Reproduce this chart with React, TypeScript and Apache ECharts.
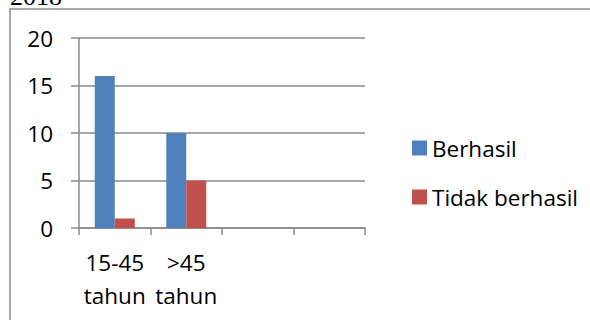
import React, { useEffect, useRef } from "react";
import * as echarts from "echarts";

const categories = ["15-45\ntahun", ">45\ntahun", "", ""];
const berhasil = [16, 10, null, null];
const tidakBerhasil = [1, 5, null, null];
const yTicks = { min: 0, max: 20, interval: 5 };
const seriesNames = ["Berhasil", "Tidak berhasil"];

const FONT = "'Open Sans', 'Noto Sans', sans-serif";
const FS = 22.5;

export default function App() {
  const ref = useRef<HTMLDivElement>(null);
  useEffect(() => {
    document.body.style.margin = "0";
    const chart = echarts.init(ref.current!, null, { renderer: "svg" });
    chart.setOption({
      animation: false,
      backgroundColor: "#ffffff",
      graphic: [
        {
          type: "text",
          x: 10,
          y: 9,
          style: {
            text: "2018",
            font: "26px 'Liberation Serif', 'DejaVu Serif', serif",
            fill: "#000",
            verticalAlign: "bottom",
            align: "left",
          },
        },
        {
          type: "rect",
          shape: { x: 10, y: 9, width: 590, height: 330 },
          style: { fill: "none", stroke: "#8a8a8a", lineWidth: 1.5 },
          silent: true,
        },
      ],
      grid: { left: 79, right: 225, top: 38, bottom: 92 },
      legend: {
        orient: "vertical",
        left: 407,
        top: 131,
        itemWidth: 15,
        itemHeight: 15,
        itemGap: 25,
        icon: "rect",
        data: seriesNames,
        textStyle: { fontFamily: FONT, fontSize: FS, color: "#000", lineHeight: 24 },
      },
      xAxis: {
        type: "category",
        data: categories,
        axisLine: { lineStyle: { color: "#8a8a8a", width: 1.5 } },
        axisTick: { show: true, length: 7, alignWithLabel: false, lineStyle: { color: "#8a8a8a", width: 1.5 } },
        axisLabel: { fontFamily: FONT, fontSize: FS, color: "#000", lineHeight: 33, margin: 18, interval: 0 },
      },
      yAxis: {
        type: "value",
        min: yTicks.min,
        max: yTicks.max,
        interval: yTicks.interval,
        axisLine: { show: true, lineStyle: { color: "#8a8a8a", width: 1.5 } },
        axisTick: { show: true, length: 8, lineStyle: { color: "#8a8a8a", width: 1.5 } },
        splitLine: { lineStyle: { color: "#8a8a8a", width: 1.5 } },
        axisLabel: { fontFamily: FONT, fontSize: FS, color: "#000", margin: 26 },
      },
      series: [
        { name: seriesNames[0], type: "bar", data: berhasil, barWidth: 20, barGap: "0%", itemStyle: { color: "#4F81BD" } },
        { name: seriesNames[1], type: "bar", data: tidakBerhasil, barWidth: 20, barGap: "0%", itemStyle: { color: "#C0504D" } },
      ],
    });
    return () => chart.dispose();
  }, []);
  return <div ref={ref} style={{ width: 590, height: 320, position: "absolute", left: 0, top: 0 }} />;
}
